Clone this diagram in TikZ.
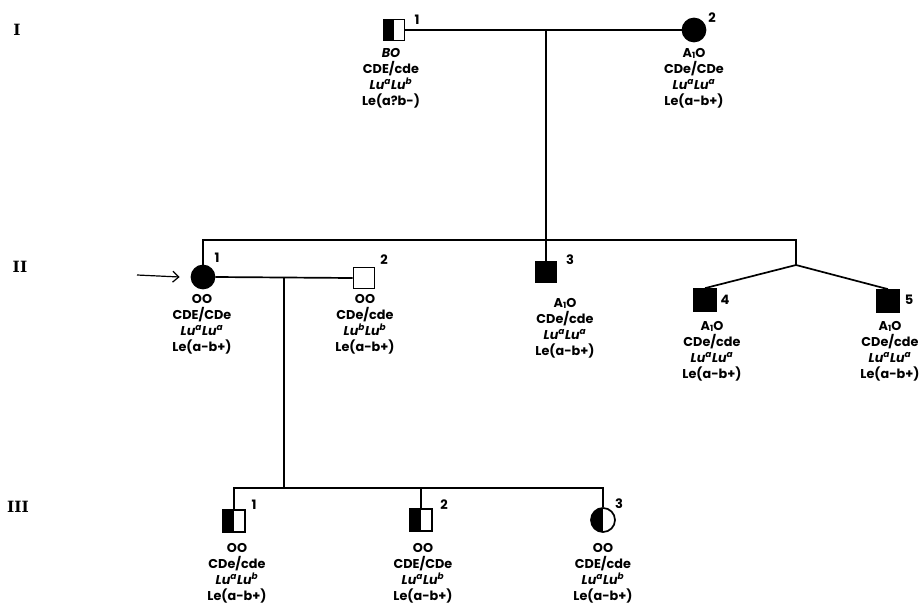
\documentclass[tikz,border=0pt]{standalone}
\usepackage{fontspec}
\newfontfamily\pop{Poppins}
\newfontfamily\slab{DejaVu Serif}
\usetikzlibrary{arrows.meta}
\newcommand\lutype[2]{{\itshape Lu\textsuperscript{#1}Lu\textsuperscript{#2}}}
\newcommand\aoneo{A\raisebox{-1.5pt}{\fontsize{8.5}{8.5}\selectfont 1}O}
\newcommand\firststrut{\rule{0pt}{11pt}}
\begin{document}
\begin{tikzpicture}[x=1pt,y=-1pt,
  ln/.style={line width=1.7pt},
  male/.style={draw, line width=1.7pt, rectangle, minimum size=21pt, inner sep=0pt},
  female/.style={draw, line width=1.7pt, circle, minimum size=23pt, inner sep=0pt},
  aff/.style={fill=black},
  carrier/.style={path picture={\fill[black] (path picture bounding box.south west) rectangle (path picture bounding box.north);}},
  num/.style={font=\pop\bfseries\fontsize{13}{13}\selectfont, inner sep=0pt},
  info/.style={font=\pop\bfseries\fontsize{12.8}{16}\selectfont, align=center, anchor=north, inner sep=0pt},
  gen/.style={font=\slab\bfseries\fontsize{15.5}{15.5}\selectfont, inner sep=0pt}
]
\useasboundingbox (0,0) rectangle (922,611);

% generation labels
\node[gen] (gI) at (17,30) {I};
\node[gen] (gII) at (20,267) {II};
\node[gen] (gIII) at (18,507) {III};

% generation I
\node[male, carrier] (i1) at (394,30) {};
\node[female, aff] (i2) at (694,30) {};
\node[num] (n-i1) at (417,20) {1};
\node[num] (n-i2) at (712,18) {2};
\node[info] (t-i1) at (391,46) {\firststrut{\itshape BO}\\CDE/cde\\\lutype{a}{b}\\Le(a?b-)};
\node[info] (t-i2) at (694,46) {\firststrut\aoneo\\CDe/CDe\\\lutype{a}{a}\\Le(a-b+)};
\draw[ln] (i1) -- (i2);
\coordinate (m1) at (546,30);
\coordinate (s2) at (546,240);

% generation II
\node[female, aff] (ii1) at (203,277) {};
\node[male] (ii2) at (364,278) {};
\node[male, aff, minimum size=20pt] (ii3) at (546,272) {};
\node[male, aff, minimum size=22pt] (ii4) at (705,300) {};
\node[male, aff, minimum size=22pt] (ii5) at (888,301) {};
\node[num] (n-ii1) at (217,258) {1};
\node[num] (n-ii2) at (384,260) {2};
\node[num] (n-ii3) at (570,260) {3};
\node[num] (n-ii4) at (725,300) {4};
\node[num] (n-ii5) at (909,300) {5};
\node[info] (t-ii1) at (202,292) {\firststrut OO\\CDE/CDe\\\lutype{a}{a}\\Le(a-b+)};
\node[info] (t-ii2) at (365,292) {\firststrut OO\\CDe/cde\\\lutype{b}{b}\\Le(a-b+)};
\node[info] (t-ii3) at (565,296) {\firststrut\aoneo\\CDe/cde\\\lutype{a}{a}\\Le(a-b+)};
\node[info] (t-ii4) at (712,319) {\firststrut\aoneo\\CDe/cde\\\lutype{a}{a}\\Le(a-b+)};
\node[info] (t-ii5) at (890,319) {\firststrut\aoneo\\CDe/cde\\\lutype{a}{a}\\Le(a-b+)};

\coordinate (twin) at (796,265);
\draw[ln] (m1) -- (ii3.north);
\draw[ln] (ii1.north) |- (s2) -| (twin);
\draw[ln] (twin) -- (ii4.north);
\draw[ln] (twin) -- (ii5.north);
\draw[ln] (ii1.east) -- (ii2.west);
\coordinate (arrowtail) at (137,275);
\draw[line width=1.2pt, -{Straight Barb[length=6pt,width=11pt]}] (arrowtail) -- ([xshift=-11pt]ii1.west);

% generation III
\coordinate (m2) at (284,278);
\coordinate (s3) at (284,488);
\node[male, carrier, minimum size=22pt] (iii1) at (234,521) {};
\node[male, carrier, minimum size=22pt] (iii2) at (421,520) {};
\node[female, carrier, minimum size=24pt] (iii3) at (603,520) {};
\node[num] (n-iii1) at (254,505) {1};
\node[num] (n-iii2) at (444,505) {2};
\node[num] (n-iii3) at (619,504) {3};
\node[info] (t-iii1) at (237,541) {\firststrut OO\\CDe/cde\\\lutype{a}{b}\\Le(a-b+)};
\node[info] (t-iii2) at (423,541) {\firststrut OO\\CDE/CDe\\\lutype{a}{b}\\Le(a-b+)};
\node[info] (t-iii3) at (603,541) {\firststrut OO\\CDE/cde\\\lutype{a}{b}\\Le(a-b+)};

\draw[ln] (m2) -- (s3);
\draw[ln] (iii1.north) |- (s3) -| (iii3.north);
\draw[ln] (iii2.north) -- (iii2.north |- s3);
\end{tikzpicture}
\end{document}
